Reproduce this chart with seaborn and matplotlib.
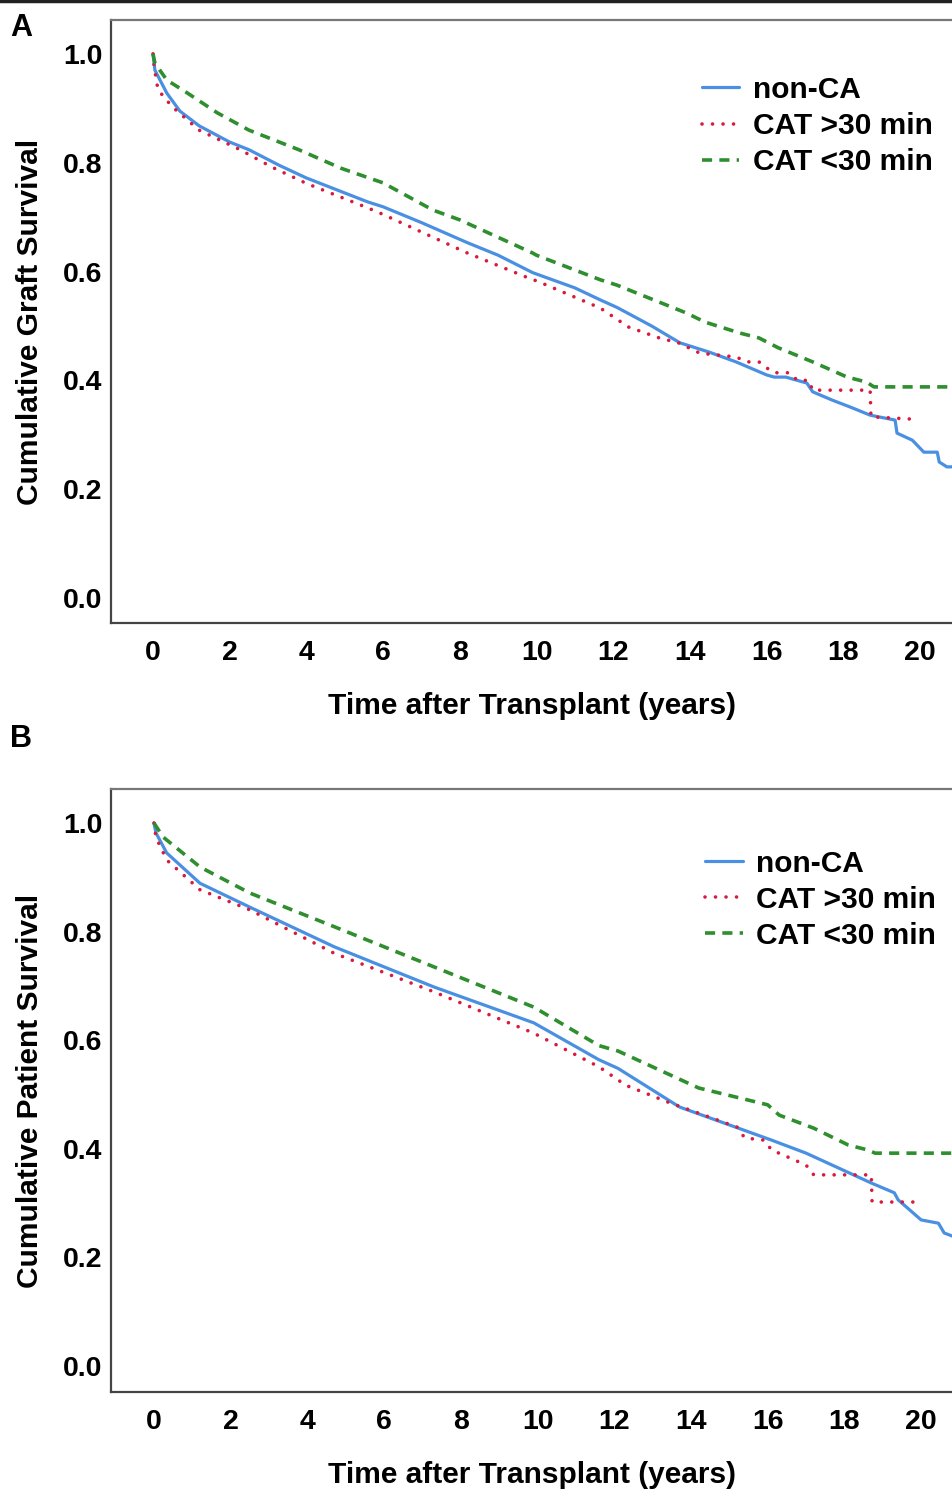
import pandas as pd
import numpy as np
import matplotlib.pyplot as plt
import seaborn as sns

# Kaplan-Meier curves (time in years, cumulative survival)
groups = ["non-CA", "CAT >30 min", "CAT <30 min"]

graft_nonca_t = [0, 0.05, 0.36, 0.7, 1.2, 2.0, 2.5, 3.3, 4.0, 5.6, 6.0, 7.0, 8.2, 9.0, 9.9, 11.0, 11.66,
                 12.1, 13.0, 13.74, 14.5, 15.2, 16.0, 16.2, 16.5, 17.05, 17.2, 17.7, 18.25, 18.7, 19.35,
                 19.4, 19.8, 20.1, 20.45, 20.5, 20.7, 20.86]
graft_nonca_s = [1.0, 0.97, 0.928, 0.895, 0.868, 0.838, 0.824, 0.795, 0.772, 0.728, 0.719, 0.69, 0.653,
                 0.63, 0.598, 0.57, 0.548, 0.534, 0.5, 0.469, 0.452, 0.434, 0.41, 0.406, 0.406, 0.395,
                 0.379, 0.364, 0.349, 0.336, 0.327, 0.303, 0.29, 0.268, 0.268, 0.25, 0.241, 0.241]

graft_cat30p_t = [0, 0.03, 0.13, 0.5, 1.2, 2.27, 3.1, 4.0, 5.6, 6.0, 8.2, 9.9, 10.0, 11.66, 12.4, 13.2,
                  13.7, 14.26, 15.2, 15.5, 15.8, 16.0, 16.2, 16.6, 16.8, 17.1, 17.2, 18.7, 18.72, 19.74]
graft_cat30p_s = [1.0, 0.976, 0.934, 0.903, 0.86, 0.824, 0.792, 0.762, 0.717, 0.705, 0.634, 0.585,
                  0.583, 0.533, 0.498, 0.478, 0.469, 0.45, 0.443, 0.434, 0.434, 0.423, 0.414, 0.414,
                  0.40, 0.40, 0.382, 0.382, 0.333, 0.329]

graft_cat30m_t = [0, 0.05, 0.36, 0.9, 1.67, 2.5, 3.8, 4.9, 6.0, 7.3, 8.0, 9.9, 10.0, 11.66, 12.1, 13.9,
                  14.4, 15.3, 15.8, 16.3, 17.2, 18.1, 18.6, 18.8, 20.86]
graft_cat30m_s = [1.0, 0.983, 0.952, 0.928, 0.892, 0.86, 0.824, 0.79, 0.763, 0.713, 0.695, 0.634, 0.63,
                  0.585, 0.575, 0.524, 0.507, 0.487, 0.478, 0.46, 0.434, 0.406, 0.397, 0.388, 0.388]

pat_nonca_t = [0, 0.05, 0.33, 1.2, 2.5, 4.7, 7.3, 9.9, 11.6, 12.1, 13.7, 16.1, 17.0, 18.7, 19.3, 19.4,
               20.0, 20.45, 20.6, 20.86]
pat_nonca_s = [1.0, 0.982, 0.945, 0.889, 0.845, 0.772, 0.698, 0.632, 0.564, 0.548, 0.477, 0.416, 0.392,
               0.337, 0.319, 0.306, 0.269, 0.263, 0.245, 0.238]

pat_cat30p_t = [0, 0.05, 0.33, 1.2, 2.5, 4.7, 7.3, 9.9, 11.6, 12.3, 13.4, 15.2, 15.4, 15.9, 16.1, 17.0,
                17.2, 18.7, 18.72, 19.8]
pat_cat30p_s = [1.0, 0.974, 0.932, 0.877, 0.84, 0.76, 0.689, 0.613, 0.551, 0.517, 0.486, 0.44, 0.42,
                0.416, 0.398, 0.37, 0.352, 0.352, 0.302, 0.302]

pat_cat30m_t = [0, 0.24, 1.2, 2.5, 4.7, 7.3, 9.9, 11.6, 12.1, 14.2, 16.0, 16.3, 17.2, 18.1, 18.6, 18.8,
                20.86]
pat_cat30m_s = [1.0, 0.974, 0.919, 0.871, 0.809, 0.735, 0.661, 0.59, 0.58, 0.512, 0.481, 0.462, 0.438,
                0.407, 0.398, 0.392, 0.392]

x_ticks = [0, 2, 4, 6, 8, 10, 12, 14, 16, 18, 20]
y_ticks = [0.0, 0.2, 0.4, 0.6, 0.8, 1.0]


def make_df(curves):
    rows = []
    for g, (t, s) in zip(groups, curves):
        for a, b in zip(t, s):
            rows.append({"time": a, "surv": b, "group": g})
    return pd.DataFrame(rows)


df_graft = make_df([(graft_nonca_t, graft_nonca_s), (graft_cat30p_t, graft_cat30p_s),
                    (graft_cat30m_t, graft_cat30m_s)])
df_pat = make_df([(pat_nonca_t, pat_nonca_s), (pat_cat30p_t, pat_cat30p_s),
                  (pat_cat30m_t, pat_cat30m_s)])

sns.set_style("white")
plt.rcParams['font.family'] = ['Liberation Sans', 'DejaVu Sans']
plt.rcParams['font.weight'] = 'bold'
for key in ['text.color', 'axes.labelcolor', 'xtick.color', 'ytick.color']:
    plt.rcParams[key] = 'black'

styles = {
    "non-CA": dict(color="#4A90E2", lw=2.3, ls="-"),
    "CAT >30 min": dict(color="#D81B3C", lw=2.6, ls=(0, (0.01, 2.9)), dash_capstyle="round"),
    "CAT <30 min": dict(color="#2F8F2F", lw=2.6, ls=(0, (2.8, 2.0))),
}

fig = plt.figure(figsize=(9.53, 14.89), dpi=100)
axA = fig.add_axes([0.1165, 0.5816, 0.8835, 0.405])
axB = fig.add_axes([0.1165, 0.0651, 0.8835, 0.405])


def draw_panel(ax, df, ylabel, xlim, ylim, leg_x, leg_y):
    for g in groups:
        st = styles[g]
        sub = df[df["group"] == g]
        kw = {}
        if "dash_capstyle" in st:
            kw["dash_capstyle"] = st["dash_capstyle"]
        sns.lineplot(data=sub, x="time", y="surv", ax=ax, sort=False, estimator=None,
                     color=st["color"], lw=st["lw"], linestyle=st["ls"], label=g, **kw)
    ax.set_xlim(*xlim)
    ax.set_ylim(*ylim)
    ax.set_xticks(x_ticks)
    ax.set_yticks(y_ticks)
    ax.set_yticklabels([f"{v:.1f}" for v in y_ticks])
    ax.tick_params(length=0, labelsize=20.5)
    ax.tick_params(axis="x", pad=12)
    ax.tick_params(axis="y", pad=6)
    for lab in ax.get_xticklabels() + ax.get_yticklabels():
        lab.set_fontweight("bold")
    ax.set_xlabel("Time after Transplant (years)", fontsize=21.5, fontweight="bold", labelpad=19)
    ax.set_ylabel(ylabel, fontsize=21.5, fontweight="bold", labelpad=14)
    ax.spines["right"].set_visible(False)
    for sp in ["left", "bottom"]:
        ax.spines[sp].set_color("#444444")
        ax.spines[sp].set_linewidth(1.6)
    ax.spines["top"].set_color("#777777")
    ax.spines["top"].set_linewidth(1.6)
    ax.legend(loc="upper left", bbox_to_anchor=(leg_x, leg_y), frameon=False,
              prop={"size": 21.5, "weight": "bold"}, handlelength=1.25, handletextpad=0.45,
              labelspacing=0.27, borderpad=0)


draw_panel(axA, df_graft, "Cumulative Graft Survival", (-1.095, 20.86), (-0.046, 1.0625), 0.684, 0.932)
draw_panel(axB, df_pat, "Cumulative Patient Survival", (-1.12, 20.83), (-0.048, 1.0626), 0.688, 0.924)

fig.text(0.011, 0.981, "A", fontsize=22, fontweight="bold", va="center")
fig.text(0.011, 0.504, "B", fontsize=22, fontweight="bold", va="center")
fig.add_artist(plt.Line2D([0, 1], [0.9992, 0.9992], transform=fig.transFigure, color="#222222", lw=2.5))

plt.savefig("out.png", dpi=100)
